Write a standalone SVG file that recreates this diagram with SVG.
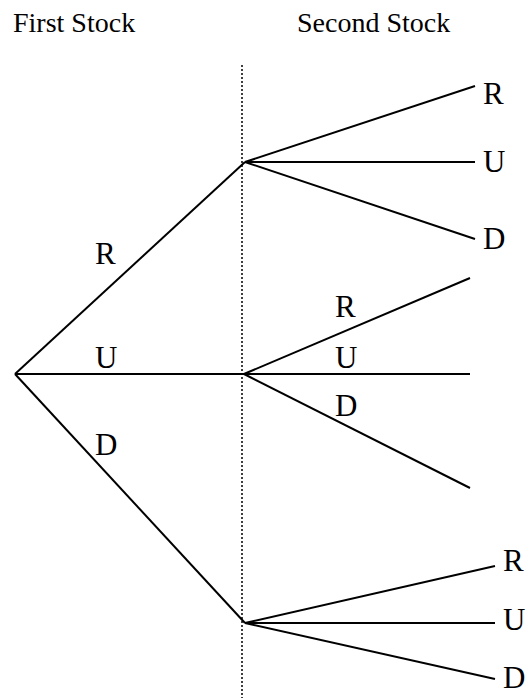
<svg xmlns="http://www.w3.org/2000/svg" width="530" height="698" viewBox="0 0 530 698">
<style>
text{font-family:"Liberation Serif","Times New Roman",serif;fill:#000}
.t{font-size:28px}
.l{font-size:31px}
.e{stroke:#000;stroke-width:2;fill:none}
.d{stroke:#000;stroke-width:1.5;stroke-dasharray:2 2;fill:none}
</style>
<rect width="530" height="698" fill="#fff"/>
<g id="titles">
<text class="t" x="13" y="32">First Stock</text>
<text class="t" x="297" y="32">Second Stock</text>
</g>
<line id="divider" class="d" x1="242" y1="65" x2="242" y2="698"/>
<g id="connectors">
<line class="e" x1="15" y1="374" x2="245" y2="162"/>
<line class="e" x1="15" y1="374" x2="244" y2="374"/>
<line class="e" x1="15" y1="374" x2="245" y2="623"/>
<line class="e" x1="245" y1="162" x2="475" y2="86"/>
<line class="e" x1="245" y1="162" x2="475" y2="162"/>
<line class="e" x1="245" y1="162" x2="475" y2="239"/>
<line class="e" x1="244" y1="374" x2="470" y2="278"/>
<line class="e" x1="244" y1="374" x2="470" y2="374"/>
<line class="e" x1="244" y1="374" x2="470" y2="488"/>
<line class="e" x1="245" y1="623" x2="495" y2="566"/>
<line class="e" x1="245" y1="623" x2="495" y2="623"/>
<line class="e" x1="245" y1="623" x2="495" y2="679"/>
</g>
<g id="root"><text class="l" x="95" y="264">R</text><text class="l" x="95" y="368">U</text><text class="l" x="95" y="455">D</text></g>
<g id="top"><text class="l" x="483" y="104">R</text><text class="l" x="483" y="172">U</text><text class="l" x="483" y="249">D</text></g>
<g id="middle"><text class="l" x="335" y="317">R</text><text class="l" x="335" y="368">U</text><text class="l" x="335" y="416">D</text></g>
<g id="bottom"><text class="l" x="503" y="571">R</text><text class="l" x="503" y="630">U</text><text class="l" x="503" y="688">D</text></g>
</svg>
